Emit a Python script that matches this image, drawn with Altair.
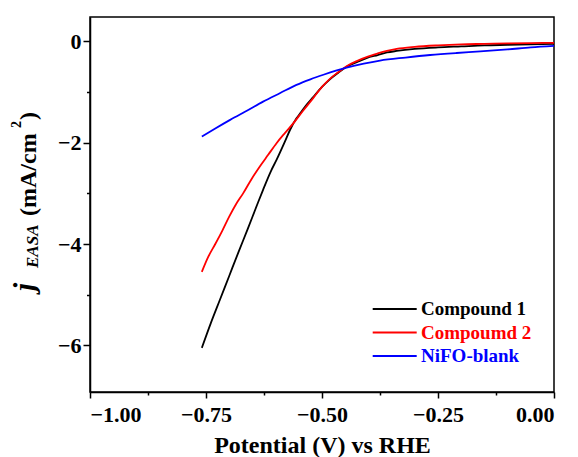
import altair as alt
import pandas as pd

# ---------------- data ----------------
names = ["Compound 1", "Compoumd 2", "NiFO-blank"]
colors = ["#000000", "#ff0000", "#0000ff"]

c1_v = [-0.759, -0.74, -0.72, -0.70, -0.68, -0.66, -0.64, -0.627, -0.61, -0.598,
        -0.58, -0.569, -0.555, -0.547, -0.535, -0.519, -0.50, -0.483, -0.465, -0.447,
        -0.425, -0.404, -0.38, -0.36, -0.339, -0.30, -0.25, -0.20, -0.15, -0.10, -0.05, 0.0]
c1_j = [-6.05, -5.57, -5.10, -4.63, -4.16, -3.70, -3.23, -2.93, -2.56, -2.34,
        -1.98, -1.75, -1.52, -1.42, -1.27, -1.10, -0.90, -0.75, -0.62, -0.50,
        -0.41, -0.33, -0.27, -0.22, -0.19, -0.15, -0.12, -0.10, -0.08, -0.07, -0.06, -0.05]

c2_v = [-0.759, -0.745, -0.73, -0.715, -0.70, -0.685, -0.670, -0.652, -0.634, -0.616,
        -0.598, -0.58, -0.562, -0.540, -0.519, -0.50, -0.483, -0.465, -0.447, -0.425,
        -0.404, -0.38, -0.36, -0.339, -0.30, -0.25, -0.20, -0.15, -0.10, -0.05, 0.0]
c2_j = [-4.55, -4.25, -4.00, -3.74, -3.46, -3.21, -3.00, -2.72, -2.47, -2.24,
        -2.01, -1.81, -1.62, -1.36, -1.12, -0.90, -0.74, -0.61, -0.49, -0.39,
        -0.31, -0.24, -0.19, -0.15, -0.11, -0.08, -0.06, -0.05, -0.04, -0.035, -0.03]

nb_v = [-0.759, -0.73, -0.698, -0.66, -0.627, -0.59, -0.555, -0.525, -0.497, -0.47,
        -0.447, -0.41, -0.375, -0.32, -0.267, -0.21, -0.159, -0.10, -0.05, 0.0]
nb_j = [-1.88, -1.72, -1.55, -1.36, -1.19, -1.02, -0.86, -0.75, -0.66, -0.58,
        -0.52, -0.44, -0.38, -0.32, -0.27, -0.23, -0.20, -0.16, -0.12, -0.09]

x_ticks = [-1.0, -0.875, -0.75, -0.625, -0.5, -0.375, -0.25, -0.125, 0.0]
y_ticks = [-6, -5, -4, -3, -2, -1, 0]

# ---------------- tables ----------------
rows = []
for name, vs, js in [(names[0], c1_v, c1_j), (names[1], c2_v, c2_j), (names[2], nb_v, nb_j)]:
    for i, (v, j) in enumerate(zip(vs, js)):
        rows.append({"series": name, "v": v, "j": j, "order": i})
df = pd.DataFrame(rows)
leg = pd.DataFrame({"series": names})
one = pd.DataFrame({"k": [0]})

FONT = "Liberation Serif"
color_scale = alt.Scale(domain=names, range=colors)

common_axis = dict(
    grid=False, domainColor="black", domainWidth=1.5, tickColor="black", tickWidth=1.5,
    labelFont=FONT, labelFontWeight="bold", labelFontSize=22, labelColor="black",
    titleFont=FONT, titleFontWeight="bold", titleFontSize=24, titleColor="black",
)

lines = alt.Chart(df).mark_line(strokeWidth=1.8, interpolate="monotone").encode(
    x=alt.X("v:Q",
            scale=alt.Scale(domain=[-1.0, 0.0], nice=False, zero=False),
            axis=alt.Axis(values=x_ticks,
                          labelExpr="abs(round(datum.value*8)) % 2 == 1 ? '' : format(datum.value, '.2f')",
                          tickSize={"condition": {"test": "abs(round(datum.value*8)) % 2 == 1", "value": 3}, "value": 6},
                          title="Potential (V) vs RHE", titleY=60, titleBaseline="alphabetic",
                          labelPadding=6, **common_axis)),
    y=alt.Y("j:Q",
            scale=alt.Scale(domain=[-6.92, 0.48], nice=False, zero=False),
            axis=alt.Axis(values=y_ticks, title=None,
                          labelExpr="abs(round(datum.value)) % 2 == 1 ? '' : format(datum.value, 'd')",
                          tickSize={"condition": {"test": "abs(round(datum.value)) % 2 == 1", "value": 3.5}, "value": 7},
                          labelPadding=2, **common_axis)),
    color=alt.Color("series:N", scale=color_scale, legend=None),
    order="order:Q",
)

leg_y = alt.Y("series:N", scale=alt.Scale(type="point", domain=names, range=[292, 339], padding=0), axis=None)

leg_rules = alt.Chart(leg).mark_rule(strokeWidth=1.8).encode(
    x=alt.value(282.7), x2=alt.value(326.7), y=leg_y,
    color=alt.Color("series:N", scale=color_scale, legend=None),
)
leg_text = alt.Chart(leg).mark_text(align="left", baseline="middle", font=FONT,
                                    fontWeight="bold", fontSize=19).encode(
    x=alt.value(331), y=leg_y, text="series:N",
    color=alt.Color("series:N", scale=color_scale, legend=None),
)

def piece(txt, x, y, size, italic):
    return alt.Chart(one).mark_text(
        text=txt, angle=270, align="left", baseline="alphabetic", font=FONT,
        fontWeight="bold", fontStyle="italic" if italic else "normal",
        fontSize=size, color="black",
    ).encode(x=alt.value(x), y=alt.value(y))

ytitle = [
    piece("j", -56, 274, 29, True),
    piece("EASA", -52, 251, 17, True),
    piece("(mA/cm", -54, 199, 24, False),
    piece("2", -69, 111, 14, False),
    piece(")", -54, 103, 24, False),
]

chart = alt.layer(lines, leg_rules, leg_text, *ytitle).resolve_scale(
    y="independent"
).properties(
    width=464, height=375,
    autosize=alt.AutoSizeParams(type="none"),
    padding={"left": 82, "top": 9, "right": 12, "bottom": 65},
).configure_view(
    stroke="black", strokeWidth=1.5
)

chart.save("out.html", embed_options={"renderer": "svg", "actions": False})
